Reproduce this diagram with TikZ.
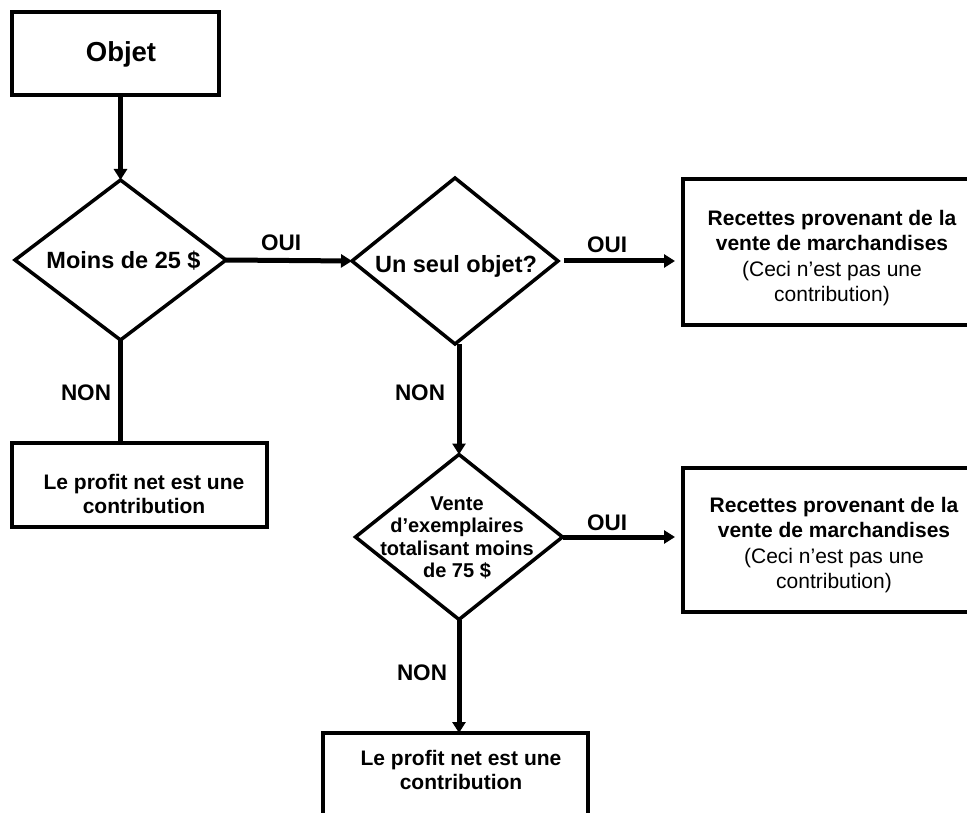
\documentclass[tikz,border=0pt]{standalone}
\usepackage{fontspec}
\setmainfont{Liberation Sans}
\usetikzlibrary{shapes.geometric,arrows.meta}
\begin{document}
\begin{tikzpicture}[x=1pt,y=-1pt,
  box/.style={draw, line width=4.8pt, inner sep=0pt, outer sep=0pt},
  dia/.style={draw, diamond, line width=3.5pt, inner sep=0pt, outer sep=0pt},
  conn/.style={line width=5pt},
  arr/.style={conn, -{Triangle[length=11pt,width=13pt]}},
  btxt/.style={font=\fontsize{21}{24}\selectfont\bfseries, align=center, inner sep=0pt},
  dtxt/.style={font=\fontsize{23.5}{26}\selectfont\bfseries, align=center, inner sep=0pt},
  vtxt/.style={font=\fontsize{20}{22.5}\selectfont\bfseries, align=center, inner sep=0pt},
  rtxt/.style={font=\fontsize{21}{25.5}\selectfont, align=center, inner sep=0pt},
  lab/.style={font=\fontsize{22.5}{26}\selectfont\bfseries, inner sep=0pt}]
\useasboundingbox (0,0) rectangle (967,813);
\clip (0,0) rectangle (967,813);
% boxes
\node[box, minimum width=207pt, minimum height=83pt] (objet) at (115.5,53.5) {};
\node[box, minimum width=255pt, minimum height=84pt] (box1) at (139.5,485) {};
\node[box, minimum width=317pt, minimum height=146pt] (rec1) at (841.5,252) {};
\node[box, minimum width=317pt, minimum height=144pt] (rec2) at (841.5,540) {};
\node[box, minimum width=265pt, minimum height=87pt] (box2) at (455.5,776.5) {};
% diamonds
\node[dia, minimum width=211pt, minimum height=160pt] (d1) at (120.5,260) {};
\node[dia, minimum width=206pt, minimum height=166pt] (d2) at (455,261) {};
\node[dia, minimum width=207pt, minimum height=165pt] (d3) at (459,537) {};
% texts
\node[font=\fontsize{27.5}{30}\selectfont\bfseries, inner sep=0pt] (objett) at (121,54) {Objet};
\node[dtxt] (d1t) at (123.5,261) {Moins de 25 \$};
\node[dtxt] (d2t) at (456,266) {Un seul objet?};
\node[vtxt] (d3t) at (457,538) {Vente\\d’exemplaires\\totalisant moins\\de 75 \$};
\node[btxt] (box1t) at (144,494) {Le profit net est une\\contribution};
\node[btxt] (box2t) at (461,770) {Le profit net est une\\contribution};
\node[rtxt] (rec1t) at (832,258) {\bfseries Recettes provenant de la\\\bfseries vente de marchandises\\(Ceci n’est pas une\\contribution)};
\node[rtxt] (rec2t) at (834,545) {\bfseries Recettes provenant de la\\\bfseries vente de marchandises\\(Ceci n’est pas une\\contribution)};
% connectors
\draw[arr] (d1.north |- objet.south) -- (d1.north);
\draw[conn] (d1.south) -- (d1.south |- box1.north);
\draw[arr] (d1.east) -- (d2.west);
\draw[arr, shorten <=6pt, shorten >=8pt] (d2.east) -- (d2.east -| rec1.west);
\draw[arr] (d3.north |- d2.south) -- (d3.north);
\draw[arr, shorten >=8pt] (d3.east) -- (d3.east -| rec2.west);
\draw[arr] (d3.south) -- (d3.south |- box2.north);
% labels
\node[lab] (oui1) at (281,243) {OUI};
\node[lab] (oui2) at (607,245) {OUI};
\node[lab] (oui3) at (607,523) {OUI};
\node[lab] (non1) at (86,393) {NON};
\node[lab] (non2) at (420,393) {NON};
\node[lab] (non3) at (422,673) {NON};
\end{tikzpicture}
\end{document}
